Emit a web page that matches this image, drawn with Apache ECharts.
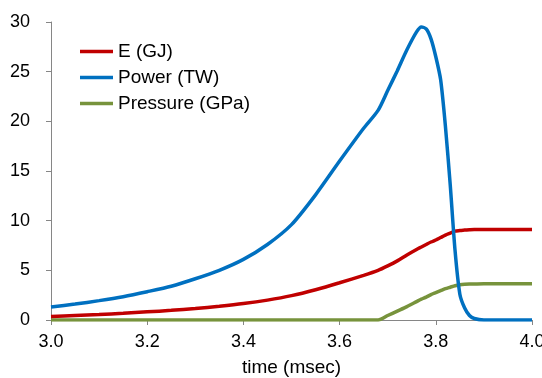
<!DOCTYPE html>
<html>
<head>
<meta charset="utf-8">
<script src="https://cdn.jsdelivr.net/npm/echarts@6/dist/echarts.min.js"></script>
<style>
  html, body { margin: 0; padding: 0; background: #fff; }
  #chart { width: 542px; height: 378px; }
</style>
</head>
<body>
<div id="chart"></div>
<script>
const seriesNames = ['E (GJ)', 'Power (TW)', 'Pressure (GPa)'];
const time = [3.00,3.05,3.10,3.15,3.20,3.25,3.30,3.35,3.40,3.45,3.50,3.55,3.60,3.65,3.68,3.70,3.72,3.74,3.76,3.77,3.78,3.79,3.80,3.81,3.82,3.83,3.84,3.85,3.86,3.87,3.88,3.90,3.95,4.00];
const energy = [0.35,0.45,0.55,0.68,0.82,0.97,1.15,1.38,1.65,2.0,2.45,3.05,3.75,4.5,5.0,5.45,5.95,6.55,7.1,7.35,7.6,7.85,8.05,8.3,8.55,8.75,8.95,9.0,9.05,9.08,9.1,9.1,9.1,9.1];
const power = [1.3,1.6,1.95,2.35,2.85,3.4,4.15,5.0,6.1,7.6,9.6,12.6,16.0,19.3,21.1,23.1,25.1,27.2,29.0,29.5,29.3,28.3,26.5,24.2,19.5,13.6,7.0,2.6,1.2,0.45,0.15,0,0,0];
const pressure = [0,0,0,0,0,0,0,0,0,0,0,0,0,0,0,0.45,0.9,1.35,1.85,2.1,2.3,2.55,2.75,2.95,3.15,3.3,3.45,3.55,3.6,3.62,3.63,3.65,3.65,3.65];
const xTicks = { min: 3.0, max: 4.0, step: 0.2 };
const yTicks = { min: 0, max: 30, step: 5 };
const colors = { e: '#C00000', power: '#0070C0', pressure: '#77933C' };

function pairs(xs, ys) { return xs.map((x, i) => [x, ys[i]]); }

const chart = echarts.init(document.getElementById('chart'), null, { renderer: 'canvas' });
const font = 'Liberation Sans, Arial, sans-serif';
const axisColor = '#868686';

function mk(name, data, color) {
  return {
    name: name, type: 'line', data: data, showSymbol: false, symbol: 'none',
    smooth: 0.25,
    lineStyle: { color: color, width: 3.5 }, itemStyle: { color: color },
    animation: false
  };
}

chart.setOption({
  animation: false,
  textStyle: { fontFamily: font },
  grid: { left: 51, right: 10, top: 22, bottom: 58, containLabel: false, outerBoundsMode: 'none' },
  legend: {
    orient: 'vertical', left: 75, top: 37, padding: 5,
    data: seriesNames,
    icon: 'rect', itemWidth: 33, itemHeight: 3.5, itemGap: 7,
    textStyle: { fontFamily: font, fontSize: 19, color: '#000', lineHeight: 19 }
  },
  xAxis: {
    type: 'value', min: xTicks.min, max: xTicks.max, interval: xTicks.step,
    name: 'time (msec)', nameLocation: 'middle', nameGap: 38,
    nameTextStyle: { fontFamily: font, fontSize: 19, color: '#000' },
    axisLine: { show: true, lineStyle: { color: axisColor, width: 1 } },
    axisTick: { show: true, length: 5, lineStyle: { color: axisColor } },
    splitLine: { show: false },
    axisLabel: { fontFamily: font, fontSize: 18, color: '#000', margin: 13,
      formatter: v => v.toFixed(1) }
  },
  yAxis: {
    type: 'value', min: yTicks.min, max: yTicks.max, interval: yTicks.step,
    axisLine: { show: true, lineStyle: { color: axisColor, width: 1 } },
    axisTick: { show: true, length: 5, lineStyle: { color: axisColor } },
    splitLine: { show: false },
    axisLabel: { fontFamily: font, fontSize: 18, color: '#000', margin: 21 }
  },
  series: [
    mk(seriesNames[2], pairs(time, pressure), colors.pressure),
    mk(seriesNames[0], pairs(time, energy), colors.e),
    mk(seriesNames[1], pairs(time, power), colors.power)
  ]
});
</script>
</body>
</html>
